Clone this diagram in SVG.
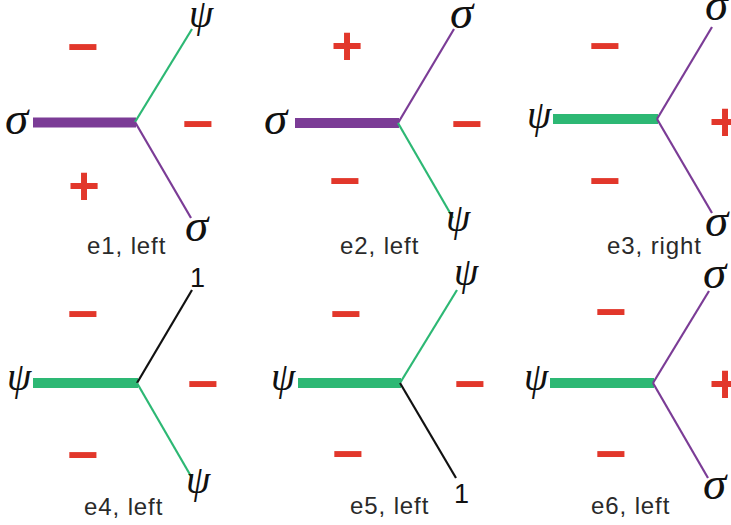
<svg xmlns="http://www.w3.org/2000/svg" width="731" height="525" viewBox="0 0 731 525">
<style>
.bar{stroke-width:10;stroke-linecap:butt;fill:none}
.thin{stroke-width:2.2;fill:none}
.pu{stroke:#7b3c96}
.gr{stroke:#2db874}
.bk{stroke:#111}
.gk{font-family:"Liberation Serif","Times New Roman",serif;font-style:italic;fill:#111}
.s{font-size:47px}
.p{font-size:39px}
.sg{font-family:"Liberation Sans",Arial,sans-serif;font-weight:bold;font-size:54px;fill:#e2372b;text-anchor:middle}
.lb{font-family:"Liberation Sans",Arial,sans-serif;font-size:24px;letter-spacing:0.9px;fill:#2a2a2a}
.one{font-family:"Liberation Sans",Arial,sans-serif;font-size:27px;fill:#111}
</style>
<rect width="731" height="525" fill="#fff"/>
<g id="connectors">
<line class="bar pu" x1="33" y1="122.5" x2="136" y2="122.5"/>
<line class="thin gr" x1="135" y1="122" x2="192" y2="29"/>
<line class="thin pu" x1="135" y1="122" x2="191" y2="218"/>
<line class="bar pu" x1="295" y1="123" x2="399" y2="123"/>
<line class="thin pu" x1="398" y1="123" x2="454" y2="29"/>
<line class="thin gr" x1="398" y1="123" x2="453" y2="218"/>
<line class="bar gr" x1="553" y1="119" x2="658" y2="119"/>
<line class="thin pu" x1="657" y1="119" x2="712" y2="27"/>
<line class="thin pu" x1="657" y1="119" x2="712" y2="213"/>
<line class="bar gr" x1="33" y1="383" x2="138" y2="383"/>
<line class="thin bk" x1="137" y1="383" x2="192" y2="290"/>
<line class="thin gr" x1="137" y1="383" x2="192" y2="478"/>
<line class="bar gr" x1="298" y1="383" x2="401" y2="383"/>
<line class="thin gr" x1="400" y1="383" x2="457" y2="290"/>
<line class="thin bk" x1="400" y1="383" x2="456" y2="478"/>
<line class="bar gr" x1="550" y1="383" x2="654" y2="383"/>
<line class="thin pu" x1="653" y1="383" x2="709" y2="291"/>
<line class="thin pu" x1="653" y1="383" x2="708" y2="478"/>
</g>
<g id="e1">
<text class="gk s" x="5" y="134">σ</text>
<text class="gk p" x="189" y="27">ψ</text>
<text class="gk s" x="185" y="241">σ</text>
<text class="sg" x="83" y="65">−</text>
<text class="sg" x="198" y="142">−</text>
<text class="sg" x="84" y="204">+</text>
<text class="lb" x="87" y="254">e1, left</text>
</g>
<g id="e2">
<text class="gk s" x="450" y="28">σ</text>
<text class="gk s" x="264" y="134">σ</text>
<text class="gk p" x="446" y="231">ψ</text>
<text class="sg" x="347" y="64">+</text>
<text class="sg" x="467" y="142">−</text>
<text class="sg" x="345" y="199">−</text>
<text class="lb" x="340" y="254">e2, left</text>
</g>
<g id="e3">
<text class="gk p" x="527" y="128">ψ</text>
<text class="gk s" x="705" y="20">σ</text>
<text class="gk s" x="705" y="236">σ</text>
<text class="sg" x="605" y="64">−</text>
<text class="sg" x="725" y="140">+</text>
<text class="sg" x="605" y="199">−</text>
<text class="lb" x="607" y="254">e3, right</text>
</g>
<g id="e4">
<text class="gk p" x="7" y="390">ψ</text>
<text class="one" x="190" y="287">1</text>
<text class="gk p" x="186" y="493">ψ</text>
<text class="sg" x="83" y="332">−</text>
<text class="sg" x="203" y="402">−</text>
<text class="sg" x="83" y="473">−</text>
<text class="lb" x="84" y="515">e4, left</text>
</g>
<g id="e5">
<text class="gk p" x="271" y="390">ψ</text>
<text class="gk p" x="454" y="285">ψ</text>
<text class="one" x="454" y="503">1</text>
<text class="sg" x="346" y="332">−</text>
<text class="sg" x="470" y="402">−</text>
<text class="sg" x="348" y="472">−</text>
<text class="lb" x="350" y="514">e5, left</text>
</g>
<g id="e6">
<text class="gk p" x="524" y="390">ψ</text>
<text class="gk s" x="703" y="288">σ</text>
<text class="gk s" x="703" y="499">σ</text>
<text class="sg" x="611" y="330">−</text>
<text class="sg" x="725" y="402">+</text>
<text class="sg" x="611" y="472">−</text>
<text class="lb" x="591" y="514">e6, left</text>
</g>
</svg>
